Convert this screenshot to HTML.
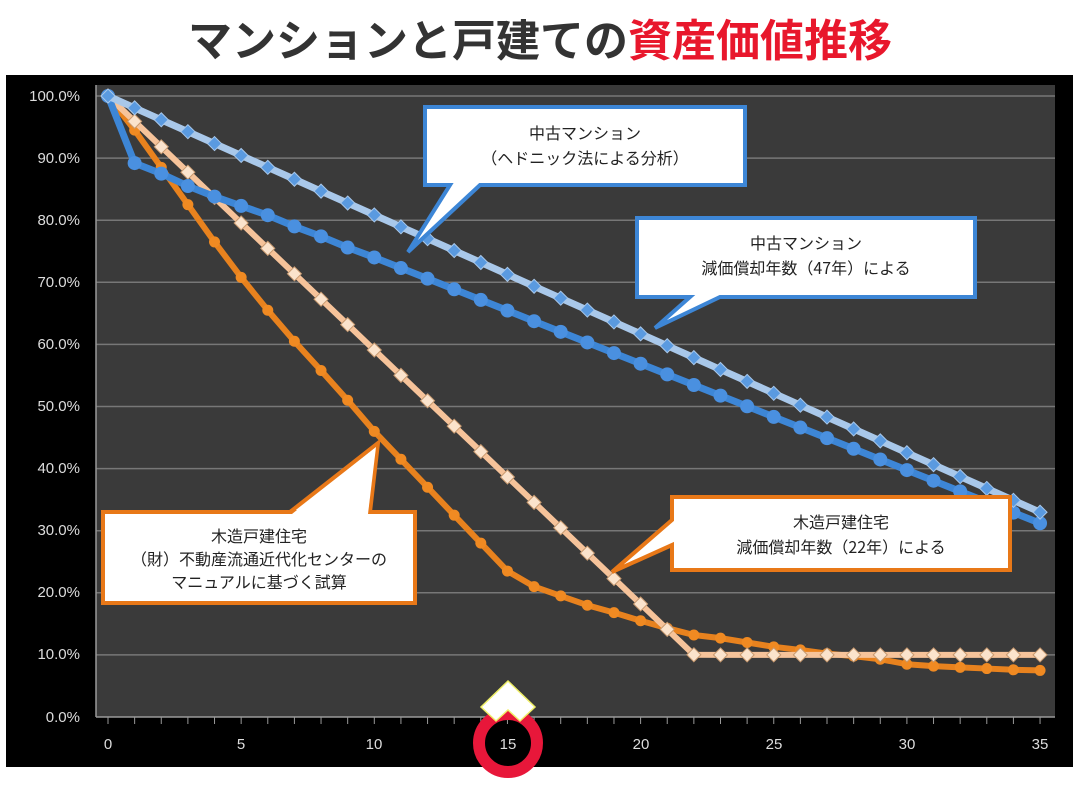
<!DOCTYPE html>
<html><head><meta charset="utf-8"><style>
body{margin:0;width:1080px;height:780px;background:#fff;overflow:hidden;font-family:"Liberation Sans","Noto Sans CJK JP",sans-serif}
</style></head><body>
<svg id="s" width="1080" height="780" xmlns="http://www.w3.org/2000/svg" font-family="Liberation Sans, Noto Sans CJK JP, sans-serif">
<text x="540" y="56" text-anchor="middle" font-size="44" font-weight="bold" fill="#333" font-family="Noto Sans CJK JP, sans-serif">マンションと戸建ての<tspan fill="#e8172c">資産価値推移</tspan></text>
<rect x="6" y="75" width="1067" height="692" fill="#000"/>
<rect x="96" y="85" width="959" height="632" fill="#3a3a3a"/>
<g stroke="#777" stroke-width="1.5">
<line x1="96" x2="1055" y1="96" y2="96"/><line x1="96" x2="1055" y1="158.1" y2="158.1"/><line x1="96" x2="1055" y1="220.2" y2="220.2"/><line x1="96" x2="1055" y1="282.3" y2="282.3"/><line x1="96" x2="1055" y1="344.4" y2="344.4"/><line x1="96" x2="1055" y1="406.5" y2="406.5"/><line x1="96" x2="1055" y1="468.6" y2="468.6"/><line x1="96" x2="1055" y1="530.7" y2="530.7"/><line x1="96" x2="1055" y1="592.8" y2="592.8"/><line x1="96" x2="1055" y1="654.9" y2="654.9"/>
</g>
<line x1="96" x2="1055" y1="717" y2="717" stroke="#999" stroke-width="1.5"/>
<line x1="96" x2="96" y1="85" y2="717" stroke="#999" stroke-width="1.5"/>
<g id="ticks"></g>
<g fill="#ddd" font-size="15" text-anchor="end">
<text x="80" y="101">100.0%</text><text x="80" y="163">90.0%</text><text x="80" y="225">80.0%</text><text x="80" y="287">70.0%</text><text x="80" y="349">60.0%</text><text x="80" y="411">50.0%</text><text x="80" y="473">40.0%</text><text x="80" y="535">30.0%</text><text x="80" y="597">20.0%</text><text x="80" y="659">10.0%</text><text x="80" y="722">0.0%</text>
</g>
<g fill="#ddd" font-size="15" text-anchor="middle">
<text x="108" y="749">0</text><text x="241" y="749">5</text><text x="374" y="749">10</text><text x="508" y="749">15</text><text x="641" y="749">20</text><text x="774" y="749">25</text><text x="907" y="749">30</text><text x="1040" y="749">35</text>
</g>
<g id="series"></g>
<g font-size="16" fill="#222" text-anchor="middle" font-family="Noto Sans CJK JP, sans-serif" stroke-linejoin="miter">
<path d="M425,107 H745 V185 H480 L408,252 L450,185 H425 Z" fill="#fff" stroke="#3d86d6" stroke-width="4"/>
<text x="585" y="139">中古マンション</text><text x="585" y="164">（ヘドニック法による分析）</text>
<path d="M637,218 H975 V297 H720 L655,328 L690,297 H637 Z" fill="#fff" stroke="#3d86d6" stroke-width="4"/>
<text x="806" y="249">中古マンション</text><text x="806" y="274">減価償却年数（47年）による</text>
<path d="M103,512 H415 V603 H103 Z M290,512 L378,443 L370,512" fill="#fff" stroke="#e87818" stroke-width="4"/>
<path d="M292,514 L376,447 L368,514 Z" fill="#fff"/>
<text x="259" y="542">木造戸建住宅</text><text x="259" y="565">（財）不動産流通近代化センターの</text><text x="259" y="588">マニュアルに基づく試算</text>
<path d="M672,497 H1010 V570 H672 V545 L612,572 L672,520 Z" fill="#fff" stroke="#e87818" stroke-width="4"/>
<text x="841" y="528">木造戸建住宅</text><text x="841" y="553">減価償却年数（22年）による</text>
</g>
<circle cx="508" cy="743" r="29" fill="none" stroke="#e8173a" stroke-width="12"/>
<path d="M508,681 L535,707 L520,721 L508,710 L496,721 L481,707 Z" fill="#fff" stroke="#ee6" stroke-width="1.5"/>
</svg>
<script>
var X=t=>108+26.63*t,Y=v=>717-6.21*v,NS="http://www.w3.org/2000/svg";
var g=document.getElementById("series"),tk=document.getElementById("ticks");
function el(p,n,a){var e=document.createElementNS(NS,n);for(var k in a)e.setAttribute(k,a[k]);p.appendChild(e);return e;}
for(var t=0;t<=35;t++)el(tk,"line",{x1:X(t),x2:X(t),y1:717,y2:724,stroke:"#999"});
var lb=[],bc=[100,89.2,87.5,85.5,83.8,82.3,80.8,79,77.4,75.6,74,72.3],lo=[],dk=[100,94.5,88.5,82.5,76.5,70.8,65.5,60.5,55.8,51,46,41.5,37,32.5,28,23.5,21,19.5,18,16.8,15.5,14.3,13.2,12.7,12,11.3,10.8,10.2,9.8,9.3,8.5,8.2,8,7.8,7.6,7.5];
for(var t=0;t<=35;t++){lb.push(100-1.915*t);if(t>11)bc.push(72.3-(72.3-31.2)*(t-11)/24);lo.push(Math.max(10,100-4.09*t));}
function line(d,c,w){el(g,"polyline",{points:d.map((v,i)=>X(i)+","+Y(v)).join(" "),fill:"none",stroke:c,"stroke-width":w,"stroke-linejoin":"round"});}
function dia(d,c,s,st){d.forEach((v,i)=>{var x=X(i),y=Y(v);el(g,"path",{d:`M${x},${y-s}L${x+s},${y}L${x},${y+s}L${x-s},${y}Z`,fill:c,stroke:st,"stroke-width":1});});}
function cir(d,c,r){d.forEach((v,i)=>el(g,"circle",{cx:X(i),cy:Y(v),r:r,fill:c}));}
line(dk,"#e8821e",6);cir(dk,"#f08a22",5.5);
line(lo,"#f6c39a",6);dia(lo,"#fbe3cc",7,"#c89a70");
line(bc,"#3d86d6",7);cir(bc,"#4a90e0",7);
line(lb,"#a9c8ea",7);dia(lb,"#5a9ae0",7,"#a9c8ea");
</script>
</body></html>
